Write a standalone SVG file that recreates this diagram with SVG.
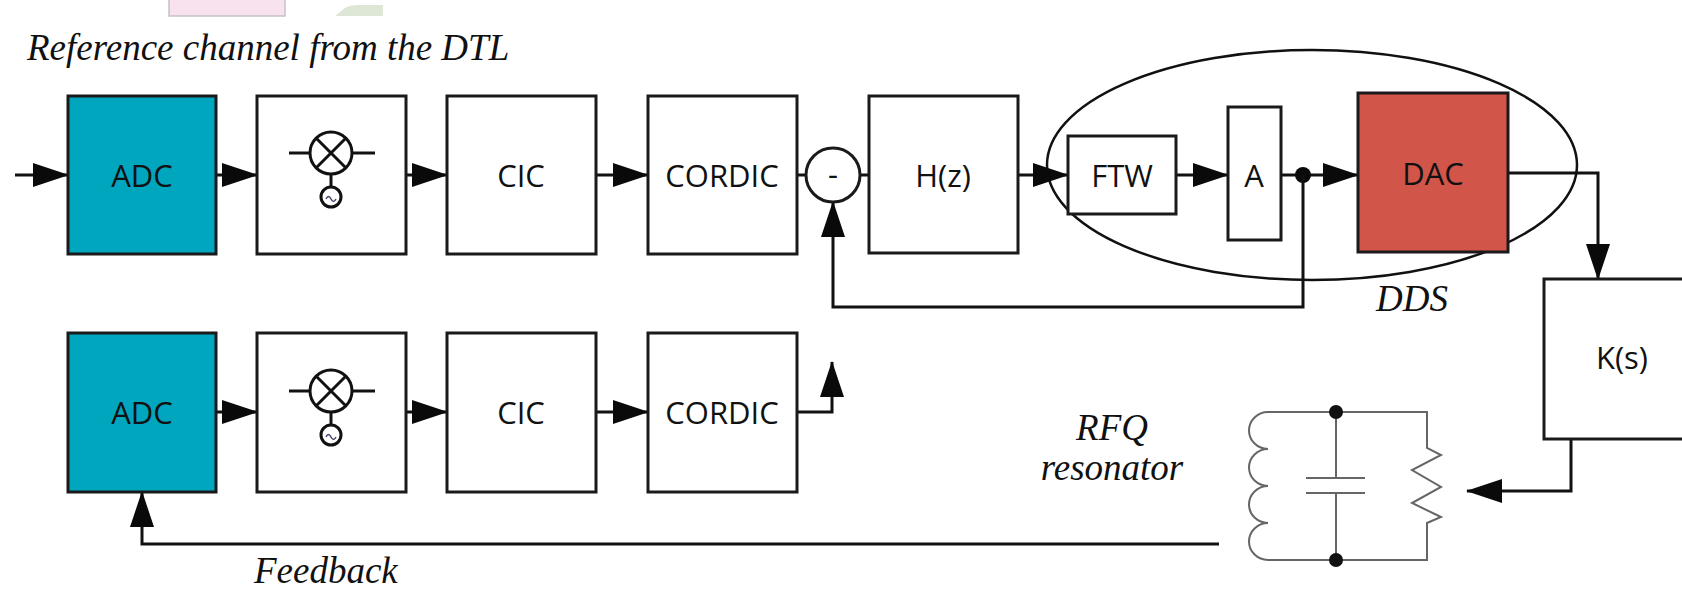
<svg xmlns="http://www.w3.org/2000/svg" width="1682" height="592" viewBox="0 0 1682 592">
<style>
.box{fill:#fff;stroke:#1a1a1a;stroke-width:3}
.adc{fill:#00A5BE;stroke:#1a1a1a;stroke-width:3}
.dac{fill:#D2554A;stroke:#1a1a1a;stroke-width:3}
.lbl{font-family:"Open Sans","Liberation Sans",sans-serif;font-size:31px;fill:#111;text-anchor:middle;dominant-baseline:central}
.it{font-family:"Liberation Serif","Times New Roman",serif;font-style:italic;font-size:37px;fill:#111}
.w{fill:none;stroke:#111;stroke-width:3}
.sym{fill:none;stroke:#111;stroke-width:3}
.res{fill:none;stroke:#666;stroke-width:2}
</style>
<defs>
<marker id="ah" markerUnits="userSpaceOnUse" markerWidth="36" markerHeight="24" refX="35" refY="12" orient="auto">
<path d="M0,0 L36,12 L0,24 Z" fill="#0a0a0a"/>
</marker>
<g id="mixer">
<line x1="-42" y1="0" x2="-21" y2="0" class="sym"/>
<line x1="21" y1="0" x2="44" y2="0" class="sym"/>
<circle cx="0" cy="0" r="21" class="sym"/>
<line x1="-15" y1="-15" x2="15" y2="15" class="sym"/>
<line x1="-15" y1="15" x2="15" y2="-15" class="sym"/>
<line x1="0" y1="21" x2="0" y2="34" class="sym"/>
<circle cx="0" cy="44" r="10" class="sym"/>
<path d="M-5,46 q2.5,-5 5,0 t5,0" fill="none" stroke="#446" stroke-width="1.5"/>
</g>
</defs>
<rect width="1682" height="592" fill="#fff"/>
<rect x="169" y="-2" width="116" height="18" fill="#F7E2EE" stroke="#c9c0c6" stroke-width="1.5"/>
<path d="M335,16 L345,8 Q350,5 358,5 L383,5 L383,16 Z" fill="#DEE7D6"/>
<ellipse id="dds-ellipse" cx="1312" cy="165" rx="265" ry="115" fill="none" stroke="#111" stroke-width="2.5"/>
<g id="connectors">
<line x1="15" y1="175" x2="68" y2="175" class="w" marker-end="url(#ah)"/>
<line x1="216" y1="175" x2="257" y2="175" class="w" marker-end="url(#ah)"/>
<line x1="406" y1="175" x2="447" y2="175" class="w" marker-end="url(#ah)"/>
<line x1="596" y1="175" x2="648" y2="175" class="w" marker-end="url(#ah)"/>
<line x1="797" y1="175" x2="806" y2="175" class="w"/>
<line x1="860" y1="175" x2="869" y2="175" class="w"/>
<line x1="1018" y1="175" x2="1068" y2="175" class="w" marker-end="url(#ah)"/>
<line x1="1176" y1="175" x2="1228" y2="175" class="w" marker-end="url(#ah)"/>
<line x1="1281" y1="175" x2="1303" y2="175" class="w"/>
<line x1="1303" y1="175" x2="1358" y2="175" class="w" marker-end="url(#ah)"/>
<circle cx="1303" cy="175" r="8" fill="#0a0a0a"/>
<path d="M1303,175 V307 H833 V202" class="w" marker-end="url(#ah)"/>
<path d="M1508,173 H1598 V279" class="w" marker-end="url(#ah)"/>
<path d="M1571,439 V491 H1467" class="w" marker-end="url(#ah)"/>
<line x1="216" y1="412" x2="257" y2="412" class="w" marker-end="url(#ah)"/>
<line x1="406" y1="412" x2="447" y2="412" class="w" marker-end="url(#ah)"/>
<line x1="596" y1="412" x2="648" y2="412" class="w" marker-end="url(#ah)"/>
<path d="M797,412 H832 V362" class="w" marker-end="url(#ah)"/>
<path d="M1219,544 H142 V492" class="w" marker-end="url(#ah)"/>
</g>
<g id="adc1"><rect x="68" y="96" width="148" height="158" class="adc"/><text x="142" y="175" class="lbl">ADC</text></g>
<g id="mix1"><rect x="257" y="96" width="149" height="158" class="box"/><use href="#mixer" x="331" y="153"/></g>
<g id="cic1"><rect x="447" y="96" width="149" height="158" class="box"/><text x="521" y="175" class="lbl">CIC</text></g>
<g id="cordic1"><rect x="648" y="96" width="149" height="158" class="box"/><text x="722" y="175" class="lbl">CORDIC</text></g>
<g id="sub"><circle cx="833" cy="175" r="27" class="box" stroke-width="2.5"/><text x="833" y="173" class="lbl">-</text></g>
<g id="hz"><rect x="869" y="96" width="149" height="157" class="box"/><text x="943" y="175" class="lbl">H(z)</text></g>
<g id="ftw"><rect x="1068" y="136" width="108" height="78" class="box"/><text x="1122" y="175" class="lbl">FTW</text></g>
<g id="amp"><rect x="1228" y="107" width="53" height="133" class="box"/><text x="1254" y="175" class="lbl">A</text></g>
<g id="dac"><rect x="1358" y="93" width="150" height="159" class="dac"/><text x="1433" y="173" class="lbl">DAC</text></g>
<g id="ks"><rect x="1544" y="279" width="160" height="160" class="box"/><text x="1622" y="357" class="lbl">K(s)</text></g>
<g id="adc2"><rect x="68" y="333" width="148" height="159" class="adc"/><text x="142" y="412" class="lbl">ADC</text></g>
<g id="mix2"><rect x="257" y="333" width="149" height="159" class="box"/><use href="#mixer" x="331" y="391"/></g>
<g id="cic2"><rect x="447" y="333" width="149" height="159" class="box"/><text x="521" y="412" class="lbl">CIC</text></g>
<g id="cordic2"><rect x="648" y="333" width="149" height="159" class="box"/><text x="722" y="412" class="lbl">CORDIC</text></g>
<g id="resonator">
<path d="M1268,412 H1427 V448 L1441,455 L1412,470 L1441,487 L1412,503 L1441,517 L1427,523 V560 H1268" class="res"/>
<path d="M1268,412 A19,18.5 0 0 0 1268,449 A19,18.5 0 0 0 1268,486 A19,18.5 0 0 0 1268,523 A19,18.5 0 0 0 1268,560" class="res"/>
<path d="M1336,412 V478 M1306,478 H1365 M1306,493 H1365 M1336,493 V560" class="res"/>
<circle cx="1336" cy="412" r="7" fill="#111"/>
<circle cx="1336" cy="560" r="7" fill="#111"/>
</g>
<g id="labels">
<text x="27" y="60" class="it">Reference channel from the DTL</text>
<text x="1376" y="311" class="it">DDS</text>
<text x="1112" y="440" class="it" text-anchor="middle">RFQ</text>
<text x="1112" y="480" class="it" text-anchor="middle">resonator</text>
<text x="254" y="583" class="it">Feedback</text>
</g>
</svg>
